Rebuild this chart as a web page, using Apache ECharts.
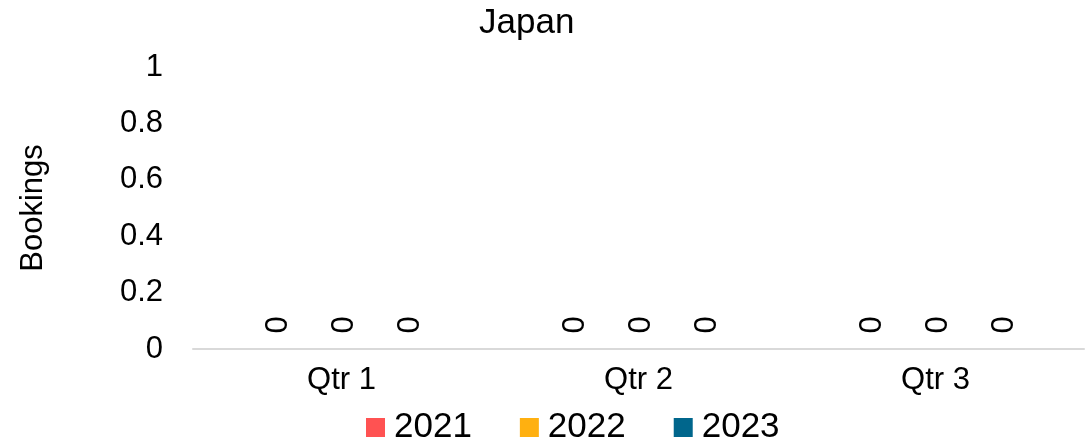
<!DOCTYPE html>
<html>
<head>
<meta charset="utf-8">
<script src="https://cdn.jsdelivr.net/npm/echarts@6/dist/echarts.min.js"></script>
<style>
  html, body { margin: 0; padding: 0; background: #fff; }
  #chart { width: 1092px; height: 446px; }
</style>
</head>
<body>
<div id="chart"></div>
<script>
const categories = ["Qtr 1", "Qtr 2", "Qtr 3"];
const years = ["2021", "2022", "2023"];
const values2021 = [0, 0, 0];
const values2022 = [0, 0, 0];
const values2023 = [0, 0, 0];
const yTicks = [0, 0.2, 0.4, 0.6, 0.8, 1];
const colors = ["#ff5252", "#ffb010", "#00668c"];

const font = "Liberation Sans, Arial, sans-serif";
const allValues = [values2021, values2022, values2023];

const chart = echarts.init(document.getElementById("chart"));
chart.setOption({
  animation: false,
  color: colors,
  textStyle: { fontFamily: font },
  title: {
    text: "Japan",
    left: 474,
    top: 1,
    textStyle: { fontFamily: font, fontSize: 35, fontWeight: "normal", color: "#000" }
  },
  legend: {
    top: 410,
    left: 366,
    icon: "rect",
    itemWidth: 19,
    itemHeight: 19,
    itemGap: 48,
    padding: 0,
    textStyle: { fontFamily: font, fontSize: 35, color: "#000", padding: [0, 0, 0, 4] },
    data: years
  },
  grid: { left: 193, right: 8, top: 67, bottom: 97 },
  xAxis: {
    type: "category",
    data: categories,
    axisLine: { lineStyle: { color: "#d9d9d9", width: 2 } },
    axisTick: { show: false },
    axisLabel: { fontFamily: font, fontSize: 31, color: "#000", margin: 16 }
  },
  yAxis: {
    type: "value",
    min: yTicks[0],
    max: yTicks[yTicks.length - 1],
    interval: 0.2,
    name: "Bookings",
    nameLocation: "middle",
    nameGap: 144,
    nameRotate: 90,
    nameTextStyle: { fontFamily: font, fontSize: 31, color: "#000" },
    axisLine: { show: false },
    axisTick: { show: false },
    splitLine: { show: false },
    axisLabel: { fontFamily: font, fontSize: 31, color: "#000", margin: 30 }
  },
  series: years.map((y, i) => ({
    name: y,
    type: "bar",
    data: allValues[i],
    barWidth: 44,
    barGap: "50%",
    label: {
      show: true,
      position: "insideBottom",
      rotate: 90,
      align: "center",
      verticalAlign: "middle",
      offset: [19, 3],
      fontFamily: font,
      fontSize: 31,
      color: "#000"
    }
  }))
});
</script>
</body>
</html>
